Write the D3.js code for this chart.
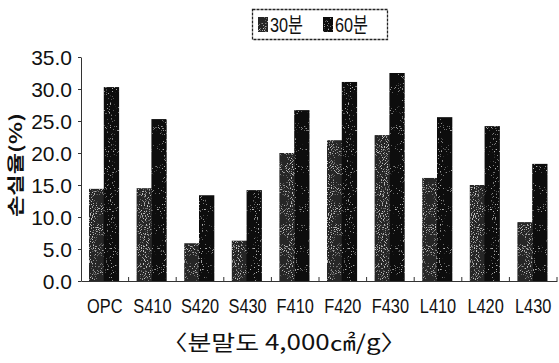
<!DOCTYPE html>
<html><head><meta charset="utf-8">
<script src="https://cdn.jsdelivr.net/npm/d3@7"></script>
<style>
body{margin:0;background:#fff;}
svg{display:block;}
</style></head>
<body>
<svg id="chart" width="559" height="363"></svg>
<script>
const categories = ["OPC","S410","S420","S430","F410","F420","F430","L410","L420","L430"];
const series = ["30분","60분"];
const values30 = [14.4, 14.5, 5.9, 6.3, 20.0, 22.0, 22.8, 16.1, 15.0, 9.2];
const values60 = [30.3, 25.3, 13.4, 14.2, 26.7, 31.1, 32.5, 25.6, 24.2, 18.3];
const yTicks = [0, 5, 10, 15, 20, 25, 30, 35];
const yTitle = "손실율(%)";
const xTitle = "〈분말도 4,000㎠/g〉";
const colors = ["#262626", "#101010"];

const svg = d3.select("#chart");
const m = {left: 81, right: 557, top: 57, bottom: 281};

const defs = svg.append("defs");
[["grain0", "-8 3.3", 0.55], ["grain1", "-10 3.4", 0.45]].forEach(([id, a, c])=>{
  const f = defs.append("filter").attr("id",id).attr("x",0).attr("y",0).attr("width",1).attr("height",1);
  f.append("feTurbulence").attr("type","fractalNoise").attr("baseFrequency",0.95).attr("numOctaves",1).attr("seed",id==="grain0"?3:7).attr("result","n");
  f.append("feColorMatrix").attr("in","n").attr("type","matrix")
   .attr("values",`0 0 0 0 ${c}  0 0 0 0 ${c}  0 0 0 0 ${c}  0 0 0 ${a}`).attr("result","dots");
  f.append("feComposite").attr("in","dots").attr("in2","SourceGraphic").attr("operator","in").attr("result","d2");
  f.append("feMerge").selectAll("feMergeNode").data(["SourceGraphic","d2"]).enter().append("feMergeNode").attr("in",d=>d);
});

const x = d3.scaleBand().domain(categories).range([m.left, m.right]).paddingInner(0).paddingOuter(0);
const xs = d3.scaleBand().domain(series).range([8, x.bandwidth()-10]).padding(0);
const y = d3.scaleLinear().domain([0, 35]).range([m.bottom, m.top]);

const data = categories.map((c,i)=>({c, v:[values30[i], values60[i]]}));

const g = svg.append("g");
g.selectAll("g.grp").data(data).enter().append("g")
 .attr("transform", d=>`translate(${x(d.c)},0)`)
 .selectAll("rect").data(d=>d.v.map((v,j)=>({s:series[j], v, j}))).enter().append("rect")
 .attr("x", d=>xs(d.s)).attr("width", xs.bandwidth()+0.5)
 .attr("y", d=>y(d.v)).attr("height", d=>y(0)-y(d.v))
 .attr("fill", d=>colors[d.j]).attr("filter", d=>`url(#grain${d.j})`);

// y axis
const ya = svg.append("g").attr("transform",`translate(${m.left},0)`)
 .call(d3.axisLeft(y).tickValues(yTicks).tickFormat(d3.format(".1f")).tickSize(3).tickSizeOuter(0));
ya.select(".domain").attr("stroke","#333");
ya.selectAll(".tick line").attr("stroke","#333");
ya.selectAll(".tick text").attr("font-family","'Liberation Sans Narrow','Liberation Sans',Arial,sans-serif")
 .attr("font-size",21).attr("fill","#111").attr("x",-9).attr("dy","0.35em");

// x axis
const xa = svg.append("g").attr("transform",`translate(0,${m.bottom})`)
 .call(d3.axisBottom(x).tickSize(0).tickSizeOuter(0));
xa.select(".domain").attr("stroke","#333");
xa.selectAll(".tick text").attr("font-family","'Liberation Sans Narrow','Liberation Sans',Arial,sans-serif")
 .attr("font-size",21).attr("fill","#111").attr("y",32).attr("dy","0")
 .attr("transform","scale(0.78,1)");
// boundary ticks
svg.append("g").selectAll("line").data(categories.slice(1).concat(["__end"])).enter().append("line")
 .attr("x1",(d,i)=> i<categories.length-1 ? x(d) : m.right).attr("x2",(d,i)=> i<categories.length-1 ? x(d) : m.right)
 .attr("y1",m.bottom).attr("y2",m.bottom-4).attr("stroke","#333");

// y title
svg.append("text").attr("transform","translate(22,165) rotate(-90)")
 .attr("text-anchor","middle").attr("font-family","'Noto Sans CJK KR',sans-serif").attr("font-weight","bold")
 .attr("font-size",17).attr("fill","#111").attr("textLength",104).attr("lengthAdjust","spacingAndGlyphs").text(yTitle);

// x title
svg.append("text").attr("x",284).attr("y",350).attr("text-anchor","middle")
 .attr("font-family","'Noto Sans CJK KR',sans-serif").attr("font-size",21).attr("fill","#111")
 .attr("textLength",245).attr("lengthAdjust","spacingAndGlyphs").text(xTitle);

// legend
const lg = svg.append("g");
lg.append("rect").attr("x",252.5).attr("y",9.5).attr("width",135).attr("height",30)
 .attr("fill","#fff").attr("stroke","#222").attr("stroke-width",1.3).attr("stroke-dasharray","3,1");
const lx = [258, 323];
series.forEach((s,i)=>{
  lg.append("rect").attr("x",lx[i]).attr("y",17).attr("width",10).attr("height",15).attr("fill",colors[i]).attr("filter",`url(#grain${i})`);
  lg.append("text").attr("x",lx[i]+12).attr("y",32).attr("font-family","'Liberation Sans','Noto Sans CJK KR',sans-serif")
   .attr("font-size",21).attr("fill","#111").attr("textLength",33).attr("lengthAdjust","spacingAndGlyphs").text(s);
});
</script>
</body></html>
